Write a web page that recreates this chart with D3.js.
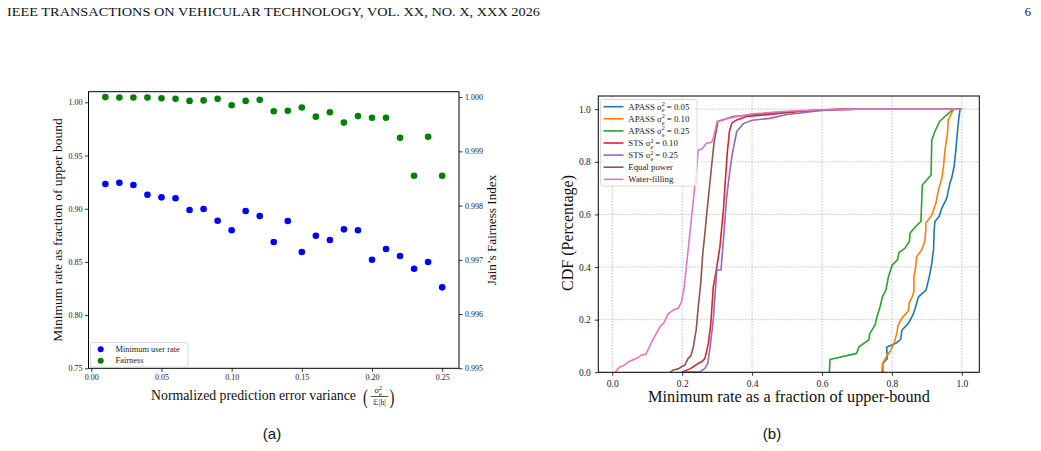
<!DOCTYPE html>
<html>
<head>
<meta charset="utf-8">
<script src="https://cdn.jsdelivr.net/npm/d3@7"></script>
<style>
  body { margin: 0; background: #fff; }
  svg { display: block; }
</style>
</head>
<body>
<div id="chart"></div>
<script>
// (a) fairness vs prediction error variance
const errVar = [0.01, 0.02, 0.03, 0.04, 0.05, 0.06, 0.07, 0.08, 0.09, 0.10, 0.11, 0.12, 0.13,
  0.14, 0.15, 0.16, 0.17, 0.18, 0.19, 0.20, 0.21, 0.22, 0.23, 0.24, 0.25];
const minUserRate = [0.9232, 0.9244, 0.9223, 0.9132, 0.9107, 0.9098, 0.8988, 0.8997, 0.8887, 0.8798,
  0.8978, 0.8931, 0.8687, 0.8884, 0.8593, 0.8746, 0.8706, 0.8806, 0.8798, 0.8521, 0.8621, 0.8555,
  0.8436, 0.8499, 0.8261];
const fairness = [1.00000, 0.999993, 0.999993, 0.999993, 0.99998, 0.99997, 0.99993, 0.99994, 0.99997,
  0.99985, 0.99993, 0.99995, 0.99974, 0.99975, 0.99981, 0.99964, 0.99972, 0.99953, 0.99965, 0.99962,
  0.99962, 0.99925, 0.99855, 0.99927, 0.99855];
const xTicksA = [0, 0.05, 0.10, 0.15, 0.20, 0.25];
const yTicksA = [0.75, 0.80, 0.85, 0.90, 0.95, 1.00];
const yTicksA2 = [0.995, 0.996, 0.997, 0.998, 0.999, 1.000];

// (b) CDF of minimum rate
const apass005 = [[0.774,0],[0.774,0.034],[0.787,0.053],[0.785,0.095],[0.811,0.11],[0.825,0.125],[0.829,0.161],
  [0.847,0.186],[0.86,0.218],[0.868,0.249],[0.876,0.287],[0.898,0.313],[0.909,0.376],[0.914,0.414],[0.919,0.465],
  [0.921,0.54],[0.923,0.573],[0.935,0.592],[0.943,0.624],[0.957,0.662],[0.966,0.719],[0.971,0.738],[0.978,0.782],
  [0.983,0.845],[0.987,0.909],[0.992,0.972],[0.995,1.0],[1.0,1.0]];
const apass010 = [[0.771,0],[0.773,0.034],[0.785,0.06],[0.797,0.085],[0.806,0.11],[0.814,0.148],[0.818,0.18],
  [0.828,0.205],[0.847,0.233],[0.85,0.265],[0.858,0.287],[0.863,0.306],[0.863,0.363],[0.868,0.40],[0.871,0.44],
  [0.885,0.465],[0.894,0.497],[0.897,0.54],[0.897,0.567],[0.914,0.598],[0.926,0.643],[0.933,0.693],[0.943,0.738],
  [0.947,0.776],[0.952,0.845],[0.959,0.909],[0.961,0.959],[0.973,0.991],[0.978,1.0],[1.0,1.0]];
const apass025 = [[0.621,0],[0.623,0.049],[0.699,0.072],[0.706,0.097],[0.734,0.123],[0.737,0.148],[0.752,0.18],
  [0.756,0.205],[0.766,0.249],[0.773,0.287],[0.783,0.313],[0.79,0.363],[0.801,0.408],[0.816,0.427],[0.82,0.455],
  [0.837,0.471],[0.85,0.497],[0.852,0.529],[0.868,0.554],[0.883,0.573],[0.887,0.712],[0.912,0.75],[0.914,0.883],
  [0.923,0.915],[0.936,0.953],[0.957,0.978],[0.971,0.995],[0.976,1.0],[1.0,1.0]];
const sts010 = [[0.198,0],[0.222,0.013],[0.232,0.021],[0.246,0.034],[0.256,0.04],[0.265,0.053],[0.275,0.11],
  [0.282,0.186],[0.289,0.325],[0.299,0.40],[0.308,0.478],[0.318,0.617],[0.322,0.70],[0.329,0.833],[0.335,0.915],
  [0.342,0.947],[0.356,0.959],[0.385,0.972],[0.45,0.98],[0.55,0.993],[0.65,1.0],[1.0,1.0]];
const sts025 = [[0.198,0],[0.251,0.002],[0.265,0.015],[0.273,0.034],[0.28,0.097],[0.289,0.199],[0.299,0.389],
  [0.311,0.389],[0.318,0.503],[0.327,0.66],[0.332,0.72],[0.342,0.82],[0.356,0.915],[0.375,0.945],[0.40,0.958],
  [0.45,0.965],[0.5,0.98],[0.6,0.995],[0.7,1.0],[1.0,1.0]];
const equalPower = [[0.165,0],[0.175,0.009],[0.189,0.013],[0.198,0.021],[0.208,0.028],[0.217,0.053],[0.225,0.063],
  [0.232,0.097],[0.24,0.161],[0.246,0.249],[0.253,0.338],[0.259,0.452],[0.265,0.528],[0.27,0.60],[0.277,0.69],
  [0.284,0.782],[0.291,0.871],[0.297,0.915],[0.302,0.953],[0.346,0.972],[0.394,0.978],[0.5,0.99],[0.6,0.997],
  [0.7,1.0],[1.0,1.0]];
const waterFilling = [[0.008,0],[0.022,0.021],[0.031,0.024],[0.046,0.04],[0.07,0.053],[0.084,0.066],[0.096,0.068],
  [0.113,0.116],[0.136,0.173],[0.148,0.189],[0.16,0.222],[0.175,0.237],[0.189,0.243],[0.198,0.268],[0.206,0.325],
  [0.215,0.44],[0.225,0.567],[0.232,0.655],[0.241,0.77],[0.246,0.845],[0.256,0.848],[0.27,0.871],[0.284,0.873],
  [0.289,0.89],[0.30,0.953],[0.33,0.965],[0.40,0.982],[0.5,0.992],[0.6,0.998],[0.7,1.0],[1.0,1.0]];
const cdfNames = ['APASS', 'APASS', 'APASS', 'STS', 'STS', 'Equal power', 'Water-filling'];
const cdfSigma = ['0.05', '0.10', '0.25', '0.10', '0.25', null, null];
const cdfColors = ['#1f77b4', '#ff7f0e', '#2ca02c', '#d62728', '#9467bd', '#8c564b', '#e377c2'];
const cdfCurves = [apass005, apass010, apass025, sts010, sts025, equalPower, waterFilling];
const ticksB = [0, 0.2, 0.4, 0.6, 0.8, 1.0];

const serif = '"Liberation Serif", "Times New Roman", serif';
const svg = d3.select('#chart').append('svg')
  .attr('width', 1041).attr('height', 451)
  .style('background', '#fff');

// page header
svg.append('text').attr('x', 7).attr('y', 15.5)
  .attr('font-family', serif).attr('font-size', 12.5).attr('fill', '#111')
  .attr('textLength', 533).attr('lengthAdjust', 'spacingAndGlyphs')
  .text('IEEE TRANSACTIONS ON VEHICULAR TECHNOLOGY, VOL. XX, NO. X, XXX 2026');
svg.append('text').attr('x', 1031).attr('y', 15.5).attr('text-anchor', 'end')
  .attr('font-family', serif).attr('font-size', 12.5).attr('fill', '#111').text('6');

function styleAxis(g, fs) {
  g.select('.domain').remove();
  g.selectAll('line').attr('stroke', '#000').attr('stroke-width', 0.8);
  g.selectAll('text').attr('font-family', serif).attr('font-size', fs).attr('fill', '#222');
}

// σ²_e with stacked sup/sub
function sigmaLabel(text, fs, prefix, suffix) {
  const s = fs * 0.7;
  text.append('tspan').text(prefix + 'σ');
  text.append('tspan').attr('font-size', s).attr('dy', -fs * 0.38).text('2');
  text.append('tspan').attr('font-size', s).attr('dx', -s * 0.5).attr('dy', fs * 0.7).text('e');
  text.append('tspan').attr('dy', -fs * 0.32).text(suffix);
}

// ---------- (a) ----------
const xA = d3.scaleLinear().domain([-0.002, 0.262]).range([88.5, 459]);
const yA = d3.scaleLinear().domain([0.75, 1.01]).range([368.3, 91.7]);
const yA2 = d3.scaleLinear().domain([0.995, 1.0001]).range([368.3, 91.7]);

const gA = svg.append('g');
gA.append('g').attr('transform', 'translate(0,368.3)')
  .call(d3.axisBottom(xA).tickValues(xTicksA).tickFormat(d3.format('.2f')).tickSize(3.5).tickPadding(3))
  .call(g => styleAxis(g, 8));
gA.append('g').attr('transform', 'translate(88.5,0)')
  .call(d3.axisLeft(yA).tickValues(yTicksA).tickFormat(d3.format('.2f')).tickSize(3.5).tickPadding(2.5))
  .call(g => styleAxis(g, 8));
gA.append('g').attr('transform', 'translate(459,0)')
  .call(d3.axisRight(yA2).tickValues(yTicksA2).tickFormat(d3.format('.3f')).tickSize(3.5).tickPadding(2.5))
  .call(g => styleAxis(g, 8));

gA.selectAll('circle.rate').data(errVar).join('circle').attr('class', 'rate')
  .attr('cx', d => xA(d)).attr('cy', (d, i) => yA(minUserRate[i])).attr('r', 3.3).attr('fill', '#0000ff');
gA.selectAll('circle.fair').data(errVar).join('circle').attr('class', 'fair')
  .attr('cx', d => xA(d)).attr('cy', (d, i) => yA2(fairness[i])).attr('r', 3.3).attr('fill', '#008000');

gA.append('rect').attr('x', 88.5).attr('y', 91.7).attr('width', 459 - 88.5).attr('height', 368.3 - 91.7)
  .attr('fill', 'none').attr('stroke', '#000').attr('stroke-width', 1);

// legend (a)
const legA = gA.append('g');
legA.append('rect').attr('x', 90.5).attr('y', 342.5).attr('width', 97.5).attr('height', 24.5).attr('rx', 2)
  .attr('fill', '#fff').attr('fill-opacity', 0.8).attr('stroke', '#d0d0d0').attr('stroke-width', 0.8);
[['Minimum user rate', '#0000ff'], ['Fairness', '#008000']].forEach(([t, c], i) => {
  legA.append('circle').attr('cx', 100.7).attr('cy', 349.3 + i * 11.4).attr('r', 3).attr('fill', c);
  legA.append('text').attr('x', 115.5).attr('y', 352 + i * 11.4)
    .attr('font-family', serif).attr('font-size', 8.4).attr('fill', '#222').text(t);
});

// axis labels (a)
gA.append('text').attr('transform', 'translate(62,230) rotate(-90)').attr('text-anchor', 'middle')
  .attr('font-family', serif).attr('font-size', 13.5).attr('fill', '#111')
  .text('Minimum rate as fraction of upper bound');
gA.append('text').attr('transform', 'translate(496,230) rotate(-90)').attr('text-anchor', 'middle')
  .attr('font-family', serif).attr('font-size', 13.2).attr('fill', '#111')
  .text('Jain\u2019s Fairness Index');
gA.append('text').attr('x', 253.5).attr('y', 400).attr('text-anchor', 'middle')
  .attr('font-family', serif).attr('font-size', 13.8).attr('fill', '#111')
  .text('Normalized prediction error variance');
const frac = gA.append('g').attr('font-family', serif).attr('fill', '#111');
frac.append('text').attr('x', 363).attr('y', 404).attr('font-size', 21).attr('transform', 'translate(363,404) scale(0.7,1) translate(-363,-404)').text('(');
frac.append('text').attr('x', 389.5).attr('y', 404).attr('font-size', 21).attr('transform', 'translate(389.5,404) scale(0.7,1) translate(-389.5,-404)').text(')');
sigmaLabel(frac.append('text').attr('x', 374.5).attr('y', 393).attr('font-size', 8.5), 8.5, '', '');
frac.append('line').attr('x1', 370.7).attr('x2', 388.3).attr('y1', 396.5).attr('y2', 396.5)
  .attr('stroke', '#111').attr('stroke-width', 0.7);
frac.append('text').attr('x', 379.5).attr('y', 404.5).attr('text-anchor', 'middle')
  .attr('font-size', 7.5).text('𝔼|h|');

// ---------- (b) ----------
const xB = d3.scaleLinear().domain([-0.04, 1.05]).range([598.3, 979.3]);
const yB = d3.scaleLinear().domain([0, 1.05]).range([372.3, 96]);
const gB = svg.append('g');

gB.append('g').selectAll('line.gx').data(ticksB).join('line')
  .attr('x1', d => xB(d)).attr('x2', d => xB(d)).attr('y1', 96).attr('y2', 372.3)
  .attr('stroke', '#b0b0b0').attr('stroke-width', 0.8).attr('stroke-dasharray', '1.5,1.5');
gB.append('g').selectAll('line.gy').data(ticksB).join('line')
  .attr('x1', 598.3).attr('x2', 979.3).attr('y1', d => yB(d)).attr('y2', d => yB(d))
  .attr('stroke', '#b0b0b0').attr('stroke-width', 0.8).attr('stroke-dasharray', '1.5,1.5');

gB.append('g').attr('transform', 'translate(0,372.3)')
  .call(d3.axisBottom(xB).tickValues(ticksB).tickFormat(d3.format('.1f')).tickSize(3.5).tickPadding(4))
  .call(g => styleAxis(g, 9.5));
gB.append('g').attr('transform', 'translate(598.3,0)')
  .call(d3.axisLeft(yB).tickValues(ticksB).tickFormat(d3.format('.1f')).tickSize(3.5).tickPadding(4))
  .call(g => styleAxis(g, 9.5));

const line = d3.line().x(d => xB(d[0])).y(d => yB(d[1]));
gB.selectAll('path.cdf').data(cdfCurves).join('path').attr('class', 'cdf')
  .attr('d', line).attr('fill', 'none')
  .attr('stroke', (d, i) => cdfColors[i]).attr('stroke-width', 1.6).attr('stroke-linejoin', 'round');

gB.append('rect').attr('x', 598.3).attr('y', 96).attr('width', 979.3 - 598.3).attr('height', 372.3 - 96)
  .attr('fill', 'none').attr('stroke', '#000').attr('stroke-width', 1);

// legend (b)
const legB = gB.append('g');
legB.append('rect').attr('x', 600.5).attr('y', 99.5).attr('width', 96.5).attr('height', 86.5).attr('rx', 2)
  .attr('fill', '#fff').attr('fill-opacity', 0.8).attr('stroke', '#d0d0d0').attr('stroke-width', 0.8);
cdfNames.forEach((n, i) => {
  const yy = 106.7 + i * 12.1;
  legB.append('line').attr('x1', 603.5).attr('x2', 623.5).attr('y1', yy).attr('y2', yy)
    .attr('stroke', cdfColors[i]).attr('stroke-width', 1.6);
  const t = legB.append('text').attr('x', 628.3).attr('y', yy + 2.9)
    .attr('font-family', serif).attr('font-size', 8.8).attr('fill', '#222');
  if (cdfSigma[i]) sigmaLabel(t, 8.8, n + ' ', ' = ' + cdfSigma[i]);
  else t.text(n);
});

gB.append('text').attr('transform', 'translate(573,233) rotate(-90)').attr('text-anchor', 'middle')
  .attr('font-family', serif).attr('font-size', 16).attr('fill', '#111').text('CDF (Percentage)');
gB.append('text').attr('x', 789).attr('y', 401.5).attr('text-anchor', 'middle')
  .attr('font-family', serif).attr('font-size', 16.3).attr('fill', '#111')
  .text('Minimum rate as a fraction of upper-bound');

// captions
svg.append('text').attr('x', 272).attr('y', 439).attr('text-anchor', 'middle')
  .attr('font-family', '"Liberation Sans", Arial, sans-serif').attr('font-size', 15).attr('fill', '#111').text('(a)');
svg.append('text').attr('x', 772).attr('y', 439).attr('text-anchor', 'middle')
  .attr('font-family', '"Liberation Sans", Arial, sans-serif').attr('font-size', 15).attr('fill', '#111').text('(b)');
</script>
</body>
</html>
